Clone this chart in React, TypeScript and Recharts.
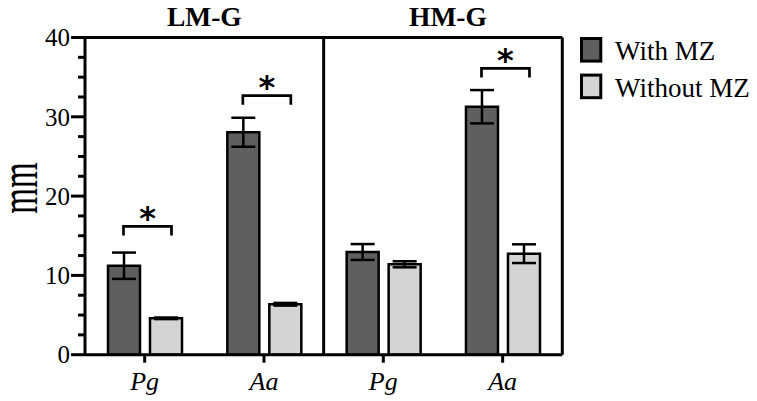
import React from "react";
import {
  BarChart,
  Bar,
  ErrorBar,
  XAxis,
  YAxis,
  ReferenceLine,
} from "recharts";

// ─── Data ─────────────────────────────────────────────────────────────────────
const categories = ["Pg", "Aa", "Pg", "Aa"];
const categoryKeys = ["LM-Pg", "LM-Aa", "HM-Pg", "HM-Aa"];
const groups = ["LM-G", "HM-G"];
const withMZ = [11.22, 28.05, 12.95, 31.27];
const withMZErr = [1.66, 1.83, 1.0, 2.1];
const withoutMZ = [4.59, 6.36, 11.4, 12.74];
const withoutMZErr = [0.1, 0.17, 0.38, 1.18];
// height of the significance bracket per category (null = none)
const sigHeight = [16.17, 32.66, null, 36.1];
const yTicks = [0, 2.5, 5, 7.5, 10, 12.5, 15, 17.5, 20, 22.5, 25, 27.5, 30, 32.5, 35, 37.5, 40];
const seriesNames = ["With MZ", "Without MZ"];

// ─── Style ────────────────────────────────────────────────────────────────────
const COLORS = { dark: "#5f5f5f", light: "#d4d4d4", ink: "#000" };
const SERIF = "'Liberation Serif', 'Times New Roman', serif";
const LINE_W = 3;

const data = categoryKeys.map((key, i) => ({
  key,
  withMZ: withMZ[i],
  withMZErr: withMZErr[i],
  withoutMZ: withoutMZ[i],
  withoutMZErr: withoutMZErr[i],
  sig: sigHeight[i],
}));

interface TickProps { x?: number; y?: number; index?: number; payload?: { value: number | string } }

function YTick({ x = 0, y = 0, payload }: TickProps) {
  const v = Number(payload?.value ?? 0);
  const major = v % 10 === 0;
  return (
    <g>
      <line x1={x - (major ? 14 : 7)} x2={x} y1={y} y2={y} stroke={COLORS.ink} strokeWidth={LINE_W} />
      {major && (
        <text x={x - 15} y={y + 8.7} textAnchor="end" fontSize={25} fontFamily={SERIF} fill={COLORS.ink}>
          {v}
        </text>
      )}
    </g>
  );
}

function XTick({ x = 0, y = 0, index = 0 }: TickProps) {
  return (
    <text x={x} y={y + 27.3} textAnchor="middle" fontSize={26} fontStyle="italic" fontFamily={SERIF} fill={COLORS.ink}>
      {categories[index]}
    </text>
  );
}

function YLabel(props: { viewBox?: { x: number; y: number; width: number; height: number } }) {
  const vb = props.viewBox ?? { x: 0, y: 0, width: 0, height: 0 };
  const cx = vb.x - 15.5;
  const cy = vb.y + vb.height / 2 - 8;
  return (
    <text
      transform={`translate(${cx},${cy}) rotate(-90) scale(1,1.65)`}
      x={0}
      y={7.6}
      textAnchor="middle"
      fontSize={33}
      fontFamily={SERIF}
      fill={COLORS.ink}
    >
      mm
    </text>
  );
}

// bracket + star drawn at the top of the invisible "sig" bar
function SigBracket(props: { x?: number; y?: number; width?: number }) {
  const { x = 0, y = 0, width = 0 } = props;
  if (!width) return null;
  const x0 = x + 2.5;
  const x1 = x + width + 2.5;
  const leg = 9;
  return (
    <g>
      <path
        d={`M${x0},${y + leg} L${x0},${y} L${x1},${y} L${x1},${y + leg}`}
        fill="none"
        stroke={COLORS.ink}
        strokeWidth={2.7}
      />
      <text x={(x0 + x1) / 2} y={y + 2.5} textAnchor="middle" fontSize={32} fontWeight="bold" fontFamily="'DejaVu Sans', sans-serif" fill={COLORS.ink}>
        *
      </text>
    </g>
  );
}

function LegendBox() {
  const fills = [COLORS.dark, COLORS.light];
  return (
    <svg width={177} height={75} style={{ position: "absolute", left: 580, top: 36.7 }}>
      {seriesNames.map((name, i) => (
        <g key={name} transform={`translate(0,${i * 36.6})`}>
          <rect x={1.5} y={1.5} width={19.3} height={22.6} fill={fills[i]} stroke={COLORS.ink} strokeWidth={LINE_W} />
          <text x={35} y={23.3} fontSize={27} fontFamily={SERIF} fill={COLORS.ink}>
            {name}
          </text>
        </g>
      ))}
    </svg>
  );
}

const frameLine = { stroke: COLORS.ink, strokeWidth: LINE_W, xAxisId: "cat", ifOverflow: "visible" as const };
const titleLabel = (value: string, dx = 0) => ({
  value,
  position: "top" as const,
  offset: 11.5,
  dx,
  fontSize: 27.5,
  fontWeight: "bold",
  fontFamily: SERIF,
  fill: COLORS.ink,
});

export default function App() {
  return (
    <div style={{ position: "fixed", left: 0, top: 0, width: 757, height: 401, background: "#fff" }}>
      <BarChart
        width={757}
        height={401}
        data={data}
        margin={{ top: 37.5, right: 194.7, bottom: 16.3, left: 40 }}
        barSize={32}
        barGap={10}
      >
        <XAxis
          xAxisId="cat"
          dataKey="key"
          height={30}
          axisLine={{ stroke: COLORS.ink, strokeWidth: LINE_W }}
          tickLine={{ stroke: COLORS.ink, strokeWidth: LINE_W }}
          tickSize={8}
          tickMargin={0}
          tick={<XTick />}
          interval={0}
        />
        <XAxis xAxisId="sig" dataKey="key" hide />
        <YAxis
          domain={[0, 40]}
          ticks={yTicks}
          interval={0}
          width={45}
          tickSize={0}
          tickMargin={0}
          tickLine={false}
          axisLine={{ stroke: COLORS.ink, strokeWidth: LINE_W }}
          tick={<YTick />}
          label={<YLabel />}
        />
        <Bar xAxisId="cat" dataKey="withMZ" fill={COLORS.dark} stroke={COLORS.ink} strokeWidth={2.5} isAnimationActive={false}>
          <ErrorBar dataKey="withMZErr" width={12} stroke={COLORS.ink} strokeWidth={2.5} isAnimationActive={false} />
        </Bar>
        <Bar xAxisId="cat" dataKey="withoutMZ" fill={COLORS.light} stroke={COLORS.ink} strokeWidth={2.5} isAnimationActive={false}>
          <ErrorBar dataKey="withoutMZErr" width={12} stroke={COLORS.ink} strokeWidth={2.5} isAnimationActive={false} />
        </Bar>
        <Bar xAxisId="sig" dataKey="sig" barSize={48} shape={<SigBracket />} isAnimationActive={false} />

        {/* frame: top edge, group titles, divider, right edge */}
        <ReferenceLine {...frameLine} y={40} />
        <ReferenceLine {...frameLine} stroke="none" segment={[{ x: categoryKeys[0], y: 40 }, { x: categoryKeys[1], y: 40 }]} label={titleLabel(groups[0])} />
        <ReferenceLine {...frameLine} stroke="none" segment={[{ x: categoryKeys[2], y: 40 }, { x: categoryKeys[3], y: 40 }]} label={titleLabel(groups[1], 5)} />
        <ReferenceLine {...frameLine} x={categoryKeys[1]} position="end" />
        <ReferenceLine {...frameLine} x={categoryKeys[3]} position="end" />
      </BarChart>
      <LegendBox />
    </div>
  );
}
